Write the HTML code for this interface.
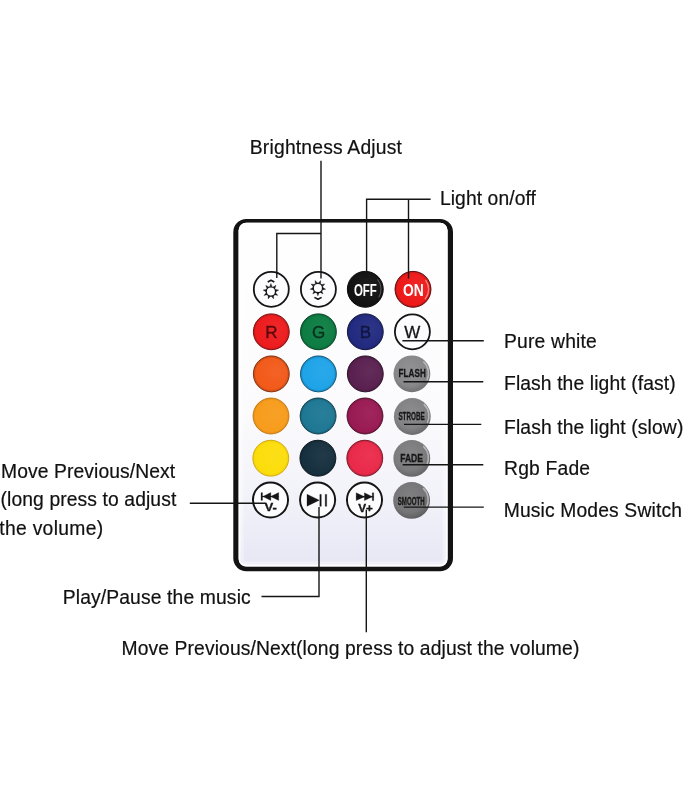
<!DOCTYPE html>
<html><head><meta charset="utf-8"><title>Remote control guide</title>
<style>
html,body{margin:0;padding:0;background:#fff;}
body{width:683px;height:800px;overflow:hidden;}
svg{display:block;will-change:transform;}
text{font-family:"Liberation Sans",sans-serif;fill:#111;}
.lbl{font-size:19.3px;}
.lbl text{stroke:#111;stroke-width:0.2px;}
.ln{stroke:#151515;stroke-width:1.4;fill:none;}
.bt{font-weight:bold;}
</style></head><body>
<svg width="683" height="800" viewBox="0 0 683 800">
<defs>
<linearGradient id="body" x1="0" y1="0" x2="0" y2="1">
<stop offset="0" stop-color="#ffffff"/><stop offset="0.55" stop-color="#fbfbfd"/><stop offset="0.82" stop-color="#f1f1f9"/><stop offset="1" stop-color="#e6e7f4"/>
</linearGradient>
<radialGradient id="rim" cx="0.5" cy="0.5" r="0.5">
<stop offset="0" stop-color="#000" stop-opacity="0"/><stop offset="0.84" stop-color="#000" stop-opacity="0"/><stop offset="0.93" stop-color="#000" stop-opacity="0.14"/><stop offset="1" stop-color="#000" stop-opacity="0.26"/>
</radialGradient>
<radialGradient id="hi" cx="0.62" cy="0.42" r="0.5">
<stop offset="0" stop-color="#fff" stop-opacity="0.05"/><stop offset="1" stop-color="#fff" stop-opacity="0"/>
</radialGradient>
<radialGradient id="grey" cx="0.45" cy="0.4" r="0.6">
<stop offset="0" stop-color="#939395"/><stop offset="0.7" stop-color="#858587"/><stop offset="1" stop-color="#6e6e70"/>
</radialGradient>
</defs>
<rect x="0" y="0" width="683" height="800" fill="#fff"/>
<!-- remote body -->
<rect x="233.3" y="218.9" width="219.7" height="352.4" rx="13" ry="13" fill="#131313"/>
<rect x="238.6" y="222.8" width="209" height="343.6" rx="7.5" ry="7.5" fill="url(#body)"/>
<rect x="241.9" y="226.1" width="202.4" height="337" rx="5" ry="5" fill="none" stroke="#fff" stroke-width="3.4" opacity="0.35"/>
<rect x="239.5" y="223.7" width="207.2" height="341.8" rx="6.8" ry="6.8" fill="none" stroke="#fff" stroke-width="1.8" opacity="0.95"/>

<g id="btns">
<circle cx="271.3" cy="289.3" r="17.5" fill="#fcfcfe" stroke="#151515" stroke-width="1.8"/>
<circle cx="318.4" cy="289.3" r="17.5" fill="#fcfcfe" stroke="#151515" stroke-width="1.8"/>
<circle cx="365.3" cy="289.3" r="17.9" fill="#131313" stroke="#0d0d0d" stroke-width="1.0"/>
<circle cx="365.3" cy="289.3" r="18.4" fill="url(#rim)" opacity="1"/>
<circle cx="365.3" cy="289.3" r="18.4" fill="url(#hi)"/>
<circle cx="413.0" cy="289.3" r="17.9" fill="#ee1a1a" stroke="#7d0a0e" stroke-width="1.0"/>
<circle cx="413.0" cy="289.3" r="18.4" fill="url(#rim)" opacity="1"/>
<circle cx="413.0" cy="289.3" r="18.4" fill="url(#hi)"/>
<circle cx="271.3" cy="331.8" r="17.9" fill="#ee1c1e" stroke="#ab1415" stroke-width="1.0"/>
<circle cx="271.3" cy="331.8" r="18.4" fill="url(#rim)" opacity="1"/>
<circle cx="271.3" cy="331.8" r="18.4" fill="url(#hi)"/>
<circle cx="318.4" cy="331.8" r="17.9" fill="#0d7d43" stroke="#095a30" stroke-width="1.0"/>
<circle cx="318.4" cy="331.8" r="18.4" fill="url(#rim)" opacity="1"/>
<circle cx="318.4" cy="331.8" r="18.4" fill="url(#hi)"/>
<circle cx="365.3" cy="331.8" r="17.9" fill="#222b80" stroke="#181e5c" stroke-width="1.0"/>
<circle cx="365.3" cy="331.8" r="18.4" fill="url(#rim)" opacity="1"/>
<circle cx="365.3" cy="331.8" r="18.4" fill="url(#hi)"/>
<circle cx="412.4" cy="331.8" r="17.5" fill="#fcfcfe" stroke="#151515" stroke-width="1.8"/>
<circle cx="271.3" cy="373.9" r="17.9" fill="#f25a1a" stroke="#ae4012" stroke-width="1.0"/>
<circle cx="271.3" cy="373.9" r="18.4" fill="url(#rim)" opacity="1"/>
<circle cx="271.3" cy="373.9" r="18.4" fill="url(#hi)"/>
<circle cx="318.4" cy="373.9" r="17.9" fill="#1fa4e8" stroke="#1676a7" stroke-width="1.0"/>
<circle cx="318.4" cy="373.9" r="18.4" fill="url(#rim)" opacity="1"/>
<circle cx="318.4" cy="373.9" r="18.4" fill="url(#hi)"/>
<circle cx="365.3" cy="373.9" r="17.9" fill="#5a2150" stroke="#401739" stroke-width="1.0"/>
<circle cx="365.3" cy="373.9" r="18.4" fill="url(#rim)" opacity="1"/>
<circle cx="365.3" cy="373.9" r="18.4" fill="url(#hi)"/>
<radialGradient id="gr2" cx="0.45" cy="0.4" r="0.6"><stop offset="0" stop-color="#929294"/><stop offset="0.7" stop-color="#88888a"/><stop offset="1" stop-color="#727274"/></radialGradient>
<circle cx="411.9" cy="373.8" r="18.4" fill="url(#gr2)"/>
<path d="M423.4 361.5A16.3 16.3 0 0 1 426.9 380.5" stroke="#c9c9cc" stroke-width="1.6" fill="none" opacity="0.75"/>
<circle cx="271.0" cy="416.0" r="17.9" fill="#f79c1c" stroke="#dd8412" stroke-width="1.0"/>
<circle cx="271.0" cy="416.0" r="18.4" fill="url(#rim)" opacity="0.4"/>
<circle cx="271.0" cy="416.0" r="18.4" fill="url(#hi)"/>
<circle cx="318.1" cy="416.0" r="17.9" fill="#1e7894" stroke="#15566a" stroke-width="1.0"/>
<circle cx="318.1" cy="416.0" r="18.4" fill="url(#rim)" opacity="1"/>
<circle cx="318.1" cy="416.0" r="18.4" fill="url(#hi)"/>
<circle cx="365.0" cy="416.0" r="17.9" fill="#9a1b54" stroke="#6e133c" stroke-width="1.0"/>
<circle cx="365.0" cy="416.0" r="18.4" fill="url(#rim)" opacity="1"/>
<circle cx="365.0" cy="416.0" r="18.4" fill="url(#hi)"/>
<radialGradient id="gr3" cx="0.45" cy="0.4" r="0.6"><stop offset="0" stop-color="#8c8c8e"/><stop offset="0.7" stop-color="#828284"/><stop offset="1" stop-color="#6c6c6e"/></radialGradient>
<circle cx="412.3" cy="416.5" r="18.4" fill="url(#gr3)"/>
<path d="M423.8 404.2A16.3 16.3 0 0 1 427.3 423.2" stroke="#c9c9cc" stroke-width="1.6" fill="none" opacity="0.75"/>
<circle cx="270.8" cy="458.2" r="17.9" fill="#fcdd0c" stroke="#e6b808" stroke-width="1.0"/>
<circle cx="270.8" cy="458.2" r="18.4" fill="url(#rim)" opacity="0.3"/>
<circle cx="270.8" cy="458.2" r="18.4" fill="url(#hi)"/>
<circle cx="317.9" cy="458.2" r="17.9" fill="#17303f" stroke="#10222d" stroke-width="1.0"/>
<circle cx="317.9" cy="458.2" r="18.4" fill="url(#rim)" opacity="1"/>
<circle cx="317.9" cy="458.2" r="18.4" fill="url(#hi)"/>
<circle cx="364.8" cy="458.2" r="17.9" fill="#ea2a4a" stroke="#a81e35" stroke-width="1.0"/>
<circle cx="364.8" cy="458.2" r="18.4" fill="url(#rim)" opacity="1"/>
<circle cx="364.8" cy="458.2" r="18.4" fill="url(#hi)"/>
<radialGradient id="gr4" cx="0.45" cy="0.4" r="0.6"><stop offset="0" stop-color="#868688"/><stop offset="0.7" stop-color="#7c7c7e"/><stop offset="1" stop-color="#666668"/></radialGradient>
<circle cx="411.8" cy="458.4" r="18.4" fill="url(#gr4)"/>
<path d="M423.3 446.1A16.3 16.3 0 0 1 426.8 465.1" stroke="#c9c9cc" stroke-width="1.6" fill="none" opacity="0.75"/>
<circle cx="270.5" cy="500.0" r="17.55" fill="#fcfcfe" stroke="#151515" stroke-width="2.0"/>
<circle cx="317.6" cy="500.0" r="17.55" fill="#fcfcfe" stroke="#151515" stroke-width="2.0"/>
<circle cx="364.5" cy="500.0" r="17.55" fill="#fcfcfe" stroke="#151515" stroke-width="2.0"/>
<radialGradient id="gr5" cx="0.45" cy="0.4" r="0.6"><stop offset="0" stop-color="#808082"/><stop offset="0.7" stop-color="#767678"/><stop offset="1" stop-color="#606062"/></radialGradient>
<circle cx="411.6" cy="500.4" r="18.4" fill="url(#gr5)"/>
<path d="M423.1 488.1A16.3 16.3 0 0 1 426.6 507.1" stroke="#c9c9cc" stroke-width="1.6" fill="none" opacity="0.75"/>
<path d="M377.8 279.6A15.8 15.8 0 0 1 379.0 297.2" stroke="#8a8a8a" stroke-width="1.0" fill="none" opacity="0.6" stroke-linecap="round"/>
<path d="M425.8 280.4A15.6 15.6 0 0 1 425.3 298.9" stroke="#ffb0a8" stroke-width="1.3" fill="none" opacity="0.7" stroke-linecap="round"/>
</g>
<circle cx="270.9" cy="291.4" r="4.65" stroke="#161616" stroke-width="1.25" fill="none"/>
<path d="M272.05 286.50L270.90 283.40L269.75 286.50ZM274.93 288.39L276.04 285.27L273.17 286.91ZM275.93 291.68L278.78 290.01L275.53 289.42ZM274.57 294.85L277.83 295.40L275.72 292.85ZM271.50 296.40L273.64 298.92L273.66 295.61ZM268.14 295.61L268.16 298.92L270.30 296.40ZM266.08 292.85L263.97 295.40L267.23 294.85ZM266.27 289.42L263.02 290.01L265.87 291.68ZM268.63 286.91L265.76 285.27L266.87 288.39Z" fill="#161616" stroke="#161616" stroke-width="0.3"/>
<path d="M267.7 282.0L271.0 280.2L274.3 282.0" stroke="#161616" stroke-width="1.6" fill="none" stroke-linejoin="round"/>
<circle cx="317.9" cy="287.9" r="4.65" stroke="#161616" stroke-width="1.25" fill="none"/>
<path d="M316.75 292.80L317.90 295.90L319.05 292.80ZM313.87 290.91L312.76 294.03L315.63 292.39ZM312.87 287.62L310.02 289.29L313.27 289.88ZM314.23 284.45L310.97 283.90L313.08 286.45ZM317.30 282.90L315.16 280.38L315.14 283.69ZM320.66 283.69L320.64 280.38L318.50 282.90ZM322.72 286.45L324.83 283.90L321.57 284.45ZM322.53 289.88L325.78 289.29L322.93 287.62ZM320.17 292.39L323.04 294.03L321.93 290.91Z" fill="#161616" stroke="#161616" stroke-width="0.3"/>
<path d="M314.4 297.4L318.0 299.3L321.6 297.4" stroke="#161616" stroke-width="1.6" fill="none" stroke-linejoin="round"/>
<g class="bt">
<text x="353.9" y="295.9" font-size="17.4" style="fill:#fff" textLength="23" lengthAdjust="spacingAndGlyphs">OFF</text>
<text x="403.0" y="295.9" font-size="17.4" style="fill:#fff" textLength="20.8" lengthAdjust="spacingAndGlyphs">ON</text>
</g>
<text x="271.3" y="337.5" font-size="17" text-anchor="middle" style="fill:#5c080d;stroke:#5c080d;stroke-width:0.4">R</text>
<text x="318.5" y="337.5" font-size="17" text-anchor="middle" style="fill:#08301b;stroke:#08301b;stroke-width:0.4">G</text>
<text x="365.5" y="337.5" font-size="17" text-anchor="middle" style="fill:#111642;stroke:#111642;stroke-width:0.4">B</text>
<text x="412.3" y="337.5" font-size="17" text-anchor="middle" style="fill:#151515;stroke:#151515;stroke-width:0.3">W</text>
<g class="bt" style="fill:#161616;stroke:#161616;stroke-width:0.3">
<text x="398.6" y="377.1" font-size="10.9" textLength="27.2" lengthAdjust="spacingAndGlyphs" style="fill:#161616">FLASH</text>
<text x="398.4" y="420.2" font-size="10.9" textLength="26.4" lengthAdjust="spacingAndGlyphs" style="fill:#161616">STROBE</text>
<text x="400.2" y="462.3" font-size="11.3" textLength="22.8" lengthAdjust="spacingAndGlyphs" style="fill:#161616">FADE</text>
<text x="397.8" y="505.2" font-size="10.9" textLength="26.8" lengthAdjust="spacingAndGlyphs" style="fill:#161616">SMOOTH</text>
<text x="264.5" y="511.4" font-size="11.3" textLength="12.4" lengthAdjust="spacingAndGlyphs" style="fill:#161616">V-</text>
<text x="358.2" y="511.5" font-size="10.4" textLength="14.7" lengthAdjust="spacingAndGlyphs" style="fill:#161616">V+</text>
</g>
<g fill="#141414" stroke="#141414" stroke-width="0.3" stroke-linejoin="round">
<rect x="261.0" y="492.7" width="1.5" height="7.6"/>
<path d="M262.9 496.5L270.8 492.6V500.4Z"/><path d="M270.6 496.5L278.7 492.6V500.4Z"/>
<path d="M261 496.5H278.6" stroke-width="1.1"/>
<path d="M307.0 494.2L319.3 500.2L307.0 506.2Z"/>
<rect x="319.8" y="494.4" width="1.5" height="11.9"/><rect x="325.2" y="494.4" width="1.5" height="11.9"/>
<path d="M356.2 492.8L364.6 496.7L356.2 500.6Z"/><path d="M364.4 492.8L372.4 496.7L364.4 500.6Z"/>
<rect x="372.3" y="492.8" width="1.4" height="7.8"/>
<path d="M356.2 496.7H373.6" stroke-width="1.1"/>
</g>
<!-- leader lines -->
<g class="ln">
<path d="M321.0 160.8V278.6"/>
<path d="M321.0 233.5H276.8V278"/>
<path d="M430.6 199.2H366.6V277"/>
<path d="M408.5 199.2V278.5"/>
<path d="M402.4 340.8H483.8"/>
<path d="M403.5 381.7H483.3"/>
<path d="M404 424.4H481.3"/>
<path d="M402.6 464.8H483.3"/>
<path d="M403.8 507.1H483.8"/>
<path d="M189.8 503.2H265.5"/>
<path d="M319.0 506.9V596.5H261.5"/>
<path d="M366.3 509.7V632.3"/>
</g>
<!-- labels -->
<g class="lbl">
<text x="249.8" y="154" textLength="152.1" lengthAdjust="spacing">Brightness Adjust</text>
<text x="439.9" y="205" textLength="96.0" lengthAdjust="spacing">Light on/off</text>
<text x="504.0" y="347.7" textLength="92.8" lengthAdjust="spacing">Pure white</text>
<text x="504.0" y="390.1" textLength="171.6" lengthAdjust="spacing">Flash the light (fast)</text>
<text x="504.0" y="434.4" textLength="179.3" lengthAdjust="spacing">Flash the light (slow)</text>
<text x="504.0" y="474.5" textLength="86.1" lengthAdjust="spacing">Rgb Fade</text>
<text x="503.7" y="516.9" textLength="178.2" lengthAdjust="spacing">Music Modes Switch</text>
<text x="1.1" y="477.8" textLength="174.0" lengthAdjust="spacing">Move Previous/Next</text>
<text x="0.5" y="506.2" textLength="175.8" lengthAdjust="spacing">(long press to adjust</text>
<text x="-0.7" y="534.9" textLength="103.8" lengthAdjust="spacing">the volume)</text>
<text x="62.7" y="603.8" textLength="188.0" lengthAdjust="spacing">Play/Pause the music</text>
<text x="121.5" y="655.2" textLength="457.8" lengthAdjust="spacing">Move Previous/Next(long press to adjust the volume)</text>
</g>
</svg>
</body></html>
